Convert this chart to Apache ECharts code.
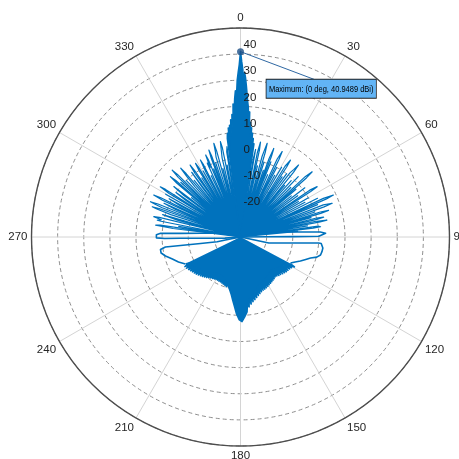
<!DOCTYPE html>
<html>
<head>
<meta charset="utf-8">
<script src="https://cdn.jsdelivr.net/npm/echarts@6/dist/echarts.min.js"></script>
<style>
  html, body { margin: 0; padding: 0; background: #ffffff; }
  #chart { width: 459px; height: 459px; }
</style>
</head>
<body>
<div id="chart"></div>
<script>
// Tick labels
const angleTicks = [0, 30, 60, 90, 120, 150, 180, 210, 240, 270, 300, 330];
const gainTicks = [-20, -10, 0, 10, 20, 30, 40];
const gainMin = -30;
const gainMax = 50;

// Peak of the pattern
const peakAngle = 0;
const peakGain = 40.9489;

// Side lobes west of the main beam, [angle deg, gain dBi]
const sideLobesWest = [
  [276, -30], [277.2, -4], [278, 2.8], [278.4, 1], [278.7, -30],
  [279.8, -6], [280.6, -30],
  [281.2, 1], [281.5, 2.5], [282.3, 1], [283.2, 4.1], [283.6, 2], [284, -30],
  [285, -5], [286, 1], [286.8, -30],
  [287.8, -2], [288.5, 4], [288.9, 5.7], [289.3, 3], [289.7, -30],
  [290.5, 2], [291, 5], [291.4, 7.0], [291.8, 4], [292.2, -30],
  [293, -3], [293.8, 2], [294.6, -30],
  [295.2, 3], [295.8, 6.9], [296.2, 4], [296.6, -30],
  [297.4, -4], [298.2, 1], [299, -30],
  [299.8, 3], [300.6, -30],
  [301.4, 2], [302, 6.2], [302.4, 4], [302.8, -30],
  [303.8, -5], [304.6, 0], [305.4, -30],
  [306.3, -3], [307.1, 2], [307.9, -30],
  [308.8, -6], [309.6, -30],
  [310.2, 2], [310.7, 5.4], [311.1, 3], [311.5, -30],
  [312.5, 1], [313.2, -30],
  [313.8, 3], [314.4, 6.6], [314.8, 4], [315.2, -30],
  [316.2, 0], [317, -30],
  [317.8, -4], [318.4, 1], [319, 4.9], [319.4, 2], [319.8, -30],
  [320.8, -2], [321.6, -30],
  [322.4, -6], [323, 1], [323.8, -30],
  [324.4, 0], [325, 3.6], [325.4, 1], [325.8, -30],
  [326.8, -3], [327.5, -30],
  [328, 0], [328.6, 3.0], [329, 1], [329.4, -30],
  [330.5, -1], [331.2, -30],
  [331.9, -2], [332.5, 3.2], [332.9, 1], [333.3, -30],
  [334.5, -4], [335.2, -30],
  [335.8, 1], [336.4, -1], [337, 4.1], [337.4, 2], [337.8, -30],
  [338.5, -2], [339.2, -30],
  [339.6, 2], [340, 5.4], [340.4, 3], [340.8, -30],
  [341.5, 0], [342.2, -30],
  [343, 2], [343.6, 4], [344.1, 7.3], [344.5, 4], [344.9, -30],
  [345.6, -3], [346.3, -30],
  [346.9, 1], [347.5, 4], [348.1, 7.3], [348.5, 5], [348.9, -30],
  [349.5, -2], [350.2, -30],
  [350.8, 3], [351.5, 5], [352, -30]
];

// Main beam and its first side lobes
const mainBeam = [
  [352, -30], [352.4, 8], [352.8, 10], [353.2, 4], [353.6, 12], [354, 9], [354.4, 13],
  [354.8, 9], [355.2, 15], [355.6, 12], [356, 17], [356.4, 15], [356.8, 21],
  [357.2, 19], [357.6, 23], [358, 26], [358.4, 24], [358.8, 30], [359.2, 33],
  [359.6, 36],
  [0, 40.9489],
  [0.4, 37], [0.8, 34], [1.1, 25], [1.4, 33], [1.8, 31], [2.2, 28], [2.6, 25],
  [3, 22], [3.4, 20], [3.8, 16], [4.2, 18], [4.6, 12], [5, 14], [5.4, 9],
  [5.8, 12], [6.2, 6], [6.6, 10], [7, 3], [7.4, 8], [7.8, -2], [8.2, 6], [8.6, -30]
];

// Side lobes east of the main beam
const sideLobesEast = [
  [8.6, -30],
  [9.2, 0], [9.8, 4], [10.4, -30],
  [11.3, 3], [11.9, 7.1], [12.3, 4], [12.6, -30],
  [13.4, -2], [14.2, -30],
  [15, 2], [15.5, 5], [15.9, 7.3], [16.3, 4], [16.6, -30],
  [17.4, 0], [18.1, -30],
  [18.9, -3], [19.5, -30],
  [20, 2], [20.6, 6.2], [21, 3], [21.3, -30],
  [22, 1], [22.7, -30],
  [23.5, -4], [24.2, -30],
  [25.2, 3], [26, 6.4], [26.4, 3], [26.7, -30],
  [27.5, 0], [28.2, -30],
  [29, -3], [29.6, -30],
  [30.5, 1], [31.2, -30],
  [32.2, 2], [33, 5.1], [33.4, 2], [33.8, -30],
  [34.6, -2], [35.3, -30],
  [36.1, 0], [36.8, -30],
  [37.6, 1], [38.3, 3], [38.9, 5.4], [39.3, 2], [39.6, -30],
  [40.5, -4], [41.2, -30],
  [42, -1], [42.8, -30],
  [43.7, 2], [44.5, -30],
  [45.4, -3], [46.1, -30],
  [47, 4], [47.7, 7.1], [48.1, 4], [48.4, -30],
  [49.3, -2], [50.1, -30],
  [51, -5], [51.7, -30],
  [52.6, 1], [53.4, -30],
  [54.2, -3], [55, -30],
  [55.9, 2], [56.7, 5.1], [57.1, 2], [57.5, -30],
  [58.4, -4], [59.1, -30],
  [60, 0], [60.8, -30],
  [61.7, -2], [62.4, -30],
  [63.3, 3], [64.1, -30],
  [65, 5], [65.7, 9], [66.1, 6], [66.4, -30],
  [67.2, 2], [67.9, -30],
  [68.8, 4], [69.8, 7.4], [70.2, 4], [70.6, -30],
  [71.4, 0], [72.1, -30],
  [72.6, 2], [73.2, 5.2], [73.6, 2], [73.9, -30],
  [74.7, -2], [75.4, -30],
  [76, 0], [76.6, 2.7], [77, 0], [77.3, -30],
  [78.2, -1], [78.9, 3.7], [79.3, 1], [79.6, -30],
  [80.5, -4], [81.2, -30],
  [82, 0], [82.7, 0.9], [83.1, -2], [83.4, -30],
  [84.3, -8], [85, -30]
];

// Narrow lobe just above 90 deg
const lobeEast = [
  [75.5, -30], [75.5, -22.3], [82.8, -14.7], [85.2, -7], [86.4, 0.6],
  [87.5, 2.6], [88.8, 2.4], [89.4, 0], [89.6, -10], [89.5, -20], [89.2, -30]
];

// Broad lobe below 90 deg
const loopEast = [
  [104, -30], [102, -18.9], [100, -16.8], [98, -13.5], [96, -8], [95, -3.7],
  [94.4, 0], [94.6, 1.0], [95.8, 1.6], [97.6, 1.8], [100, 1.7], [102.7, 1.4],
  [104.8, 0.2], [106.7, -2], [109, -3.6], [111.8, -5.3], [114.5, -7], [117.5, -8.4]
];

// Back hemisphere lobes (118..244 deg)
const backLobes = [
  [118, -8.4], [119, -6.4], [120, -9.9], [121, -7.2], [122, -10.4], [123, -7.6],
  [124, -10.6], [125, -7.8], [126, -10.6], [127, -8.0], [128, -11.2], [129, -8.3],
  [130, -11.6], [131, -8.6], [132, -12.0], [133, -9.0], [134, -12.3], [135, -9.2],
  [136, -12.6], [137, -9.6], [138, -12.7], [139, -9.8], [140, -12.5], [141, -9.5],
  [142, -12.4], [143, -9.3], [144, -12.0], [145, -9.1], [146, -11.8], [147, -8.9],
  [148, -11.6], [149, -8.7], [150, -11.4], [151, -8.4], [152, -11.1], [153, -8.2],
  [154, -10.9], [155, -8.0], [156, -10.7], [157, -7.9], [158, -10.4], [159, -7.6],
  [160, -10.0], [161, -7.1], [162, -9.6], [163, -6.6], [164, -9.0], [165, -6.0],
  [166, -8.4], [167, -5.4], [168, -7.7], [169, -4.8], [170, -7.0], [171, -4.0],
  [172, -6.2], [173, -3.0], [174, -4.6], [175, -1.2], [176, -2.0], [177, 0.6],
  [178, 0.8], [179, 2.4], [180, 2.6], [181, 1.6], [182, 1.4], [183, -0.6],
  [184, -0.8], [185, -3.4], [186, -3.2], [187, -5.6], [188, -5.1], [189, -7.6],
  [190, -6.8], [191, -9.0], [192, -8.3], [193, -10.2], [194, -9.4], [195, -11.1],
  [196, -10.2], [197, -11.8], [198, -10.6], [199, -12.4], [200, -10.8], [201, -12.8],
  [202, -11.0], [203, -13.2], [204, -11.2], [205, -13.4], [206, -11.2], [207, -13.6],
  [208, -11.3], [209, -13.6], [210, -11.3], [211, -13.5], [212, -11.1], [213, -13.3],
  [214, -10.9], [215, -13.1], [216, -10.6], [217, -12.8], [218, -10.2], [219, -12.4],
  [220, -9.8], [221, -12.0], [222, -9.4], [223, -11.6], [224, -9.0], [225, -11.3],
  [226, -8.7], [227, -11.0], [228, -8.3], [229, -10.6], [230, -7.9], [231, -10.2],
  [232, -7.6], [233, -9.8], [234, -7.3], [235, -9.4], [236, -6.9], [237, -9.0],
  [238, -6.6], [239, -8.6], [240, -6.2], [241, -8.2], [242, -5.9], [243, -7.8],
  [244, -6.6]
];

// Broad lobe below 270 deg
const loopWest = [
  [243.9, -6.5], [248, -4.4], [252.1, -2.6], [255.8, -0.4], [258.6, 1.0],
  [261.1, 1.0], [262.4, -1.0], [261.9, -6.8], [260.8, -14.5], [258.6, -20.9],
  [258.7, -24.1], [258.7, -30]
];

// Narrow lobe around 270 deg
const lobeWest = [
  [281, -30], [280.7, -22.3], [275.3, -14.7], [273.5, -7], [272.7, 0.6],
  [271.6, 2.2], [270.6, 2.6], [269.4, 2.2], [268.9, -1], [268.8, -7],
  [268.3, -14], [267.5, -18.5], [266, -24], [265, -30]
];

const BLUE = '#0072BD';
const FONT = "'Liberation Sans', Arial, sans-serif";

// polar data items are [radius, angle]
const toPolar = (arr) => arr.map(p => [p[1], p[0]]);

function patternLine(name, arr, extra) {
  return Object.assign({
    name: name,
    type: 'line',
    coordinateSystem: 'polar',
    polarIndex: 0,
    data: toPolar(arr),
    showSymbol: false,
    symbol: 'none',
    silent: true,
    animation: false,
    lineStyle: { color: BLUE, width: 1.6, join: 'round' },
    itemStyle: { color: BLUE },
    z: 2
  }, extra || {});
}

// dense regions are filled down to the centre of the plot
const solidFill = { areaStyle: { color: BLUE, opacity: 1, origin: 'start' } };
// thinner strokes keep the gaps between side lobes open
const thinStroke = { lineStyle: { color: BLUE, width: 1.2, join: 'round' } };

const chart = echarts.init(document.getElementById('chart'), null, { renderer: 'canvas' });

const polarCenter = [240.5, 237];
const polarRadius = 209;

const option = {
  backgroundColor: '#ffffff',
  animation: false,
  polar: [
    { center: polarCenter, radius: polarRadius },
    { center: polarCenter, radius: polarRadius }
  ],
  angleAxis: [
    {
      polarIndex: 0,
      type: 'value',
      min: 0,
      max: 360,
      interval: 30,
      startAngle: 90,
      clockwise: true,
      z: 0,
      axisLine: { show: true, lineStyle: { color: '#4d4d4d', width: 1.4 } },
      axisTick: { show: false },
      splitLine: { show: true, lineStyle: { color: '#d4d4d4', width: 1 } },
      axisLabel: {
        show: true,
        margin: 4,
        color: '#262626',
        fontSize: 11.5,
        fontFamily: FONT,
        formatter: v => angleTicks.includes(v) ? String(v) : ''
      }
    },
    {
      polarIndex: 1,
      type: 'value',
      min: 0,
      max: 360,
      interval: 30,
      startAngle: 90,
      clockwise: true,
      show: false
    }
  ],
  radiusAxis: [
    {
      polarIndex: 0,
      type: 'value',
      min: gainMin,
      max: gainMax,
      interval: 10,
      z: 0,
      axisLine: { show: false },
      axisTick: { show: false },
      axisLabel: { show: false },
      splitLine: { show: true, lineStyle: { color: '#8f8f8f', width: 1, type: [4, 3] } }
    },
    {
      polarIndex: 1,
      type: 'value',
      min: gainMin,
      max: gainMax,
      interval: 10,
      z: 10,
      axisLine: { show: false },
      axisTick: { show: false },
      splitLine: { show: false },
      axisLabel: {
        show: true,
        margin: -3,
        align: 'left',
        verticalAlign: 'bottom',
        padding: [0, 0, 3, 0],
        color: '#1a1a1a',
        fontSize: 11.5,
        fontFamily: FONT,
        formatter: v => gainTicks.includes(v) ? String(v) : ''
      }
    }
  ],
  series: [
    patternLine('side lobes west', sideLobesWest, thinStroke),
    patternLine('main beam', mainBeam, solidFill),
    patternLine('side lobes east', sideLobesEast, thinStroke),
    patternLine('east lobe', lobeEast),
    patternLine('east loop', loopEast),
    patternLine('back', backLobes, solidFill),
    patternLine('west loop', loopWest),
    patternLine('west lobe', lobeWest),
    {
      name: 'peak',
      type: 'scatter',
      coordinateSystem: 'polar',
      polarIndex: 0,
      data: [[peakGain, peakAngle]],
      symbol: 'circle',
      symbolSize: 7,
      silent: true,
      animation: false,
      itemStyle: { color: '#1d4f86' },
      z: 6
    }
  ]
};

chart.setOption(option);

// Data tip for the peak: leader line and text box placed next to the marker
const peakSeriesIndex = option.series.length - 1;
const peakPx = chart.convertToPixel({ seriesIndex: peakSeriesIndex }, [peakGain, peakAngle]);
const tipText = 'Maximum: (' + peakAngle + ' deg, ' + peakGain + ' dBi)';
chart.setOption({
  graphic: [
    {
      type: 'line',
      silent: true,
      z: 5,
      shape: { x1: peakPx[0], y1: peakPx[1], x2: peakPx[0] + 77, y2: peakPx[1] + 29 },
      style: { stroke: '#2f68a3', lineWidth: 1 }
    },
    {
      type: 'text',
      silent: true,
      z: 7,
      x: peakPx[0] + 26,
      y: peakPx[1] + 28,
      scaleX: 0.8,
      style: {
        text: tipText,
        fontSize: 9.4,
        fontFamily: FONT,
        fill: '#000000',
        lineHeight: 11,
        backgroundColor: '#62b4f5',
        borderColor: '#1f1f1f',
        borderWidth: 1,
        padding: [4, 3, 3, 3]
      }
    }
  ]
});
</script>
</body>
</html>
